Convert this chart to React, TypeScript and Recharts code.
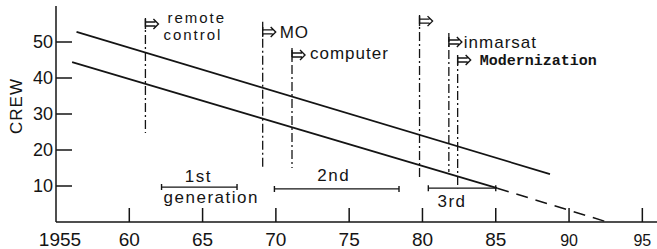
import { LineChart, Line, XAxis, YAxis, ReferenceLine, ReferenceDot } from "recharts";

// crew trend lines (year, crew size)
const upperYears = [1956.4, 1988.7];
const upperCrew = [52.8, 13.3];
const lowerYears = [1956.1, 1985.1];
const lowerCrew = [44.4, 9.4];
const projYears = [1985.1, 1992.6];
const projCrew = [9.4, 0];

// technology events: dash-dot marker lines
const eventLabels = [["remote", "control"], ["MO"], ["computer"], [], ["inmarsat"], ["Modernization"]];
const eventYears = [1961.1, 1969.1, 1971.1, 1979.8, 1981.8, 1982.4];
const eventTop = [56.7, 55.6, 48.3, 57.5, 52.5, 45.8];
const eventArrow = [55.0, 52.8, 46.4, 55.8, 50.0, 45.0];
const eventBottom = [24.7, 15.3, 15.0, 11.7, 13.9, 9.4];

// generations
const genLabels = [["1st", "generation"], ["2nd"], ["3rd"]];
const genStart = [1962.2, 1969.9, 1980.4];
const genEnd = [1967.35, 1978.4, 1985.0];
const genCrew = [9.7, 9.2, 9.4];

const xTicks = [1955, 1960, 1965, 1970, 1975, 1980, 1985, 1990, 1995];
const xTickLabels = ["1955", "60", "65", "70", "75", "80", "85", "90", "95"];
const yTicks = [10, 20, 30, 40, 50];

const INK = "#141414";
const FONT = "'Liberation Sans', Arial, sans-serif";

const toPoints = (xs: number[], ys: number[]) => xs.map((year, i) => ({ year, crew: ys[i] }));

// label offsets relative to the arrow point (px)
const eventOffsets = [
  [{ dx: 22, dy: -1 }, { dx: 18, dy: 16 }],
  [{ dx: 17, dy: 6 }],
  [{ dx: 18, dy: 4 }],
  [],
  [{ dx: 15, dy: 6 }],
  [{ dx: 22, dy: 5 }],
];
const genOffsets = [
  [{ dx: -1, dy: -5 }, { dx: 12, dy: 16 }],
  [{ dx: -3, dy: -8 }],
  [{ dx: -10, dy: 19 }],
];

function XTick({ x, y, payload, index }: any) {
  const v = payload.value;
  const small = v >= 1990;
  return (
    <g>
      {v !== 1955 && <line x1={x} x2={x} y1={y} y2={y - 14} stroke={INK} strokeWidth={1.5} />}
      <text
        x={v === 1955 ? x + 4 : x}
        y={y + 24}
        textAnchor="middle"
        fontFamily={FONT}
        fontSize={small ? 16 : 19}
        fill={INK}
      >
        {xTickLabels[index] ?? xTickLabels[xTicks.indexOf(v)]}
      </text>
    </g>
  );
}

function YTick({ x, y, payload }: any) {
  return (
    <g>
      <line x1={x} x2={x + 16} y1={y} y2={y} stroke={INK} strokeWidth={1.5} />
      <text x={x - 3} y={y + 6} textAnchor="end" fontFamily={FONT} fontSize={18} fill={INK}>
        {payload.value}
      </text>
    </g>
  );
}

function EventMarker({ cx, cy, i }: any) {
  const mono = eventLabels[i][0] === "Modernization";
  const twoLine = eventLabels[i].length > 1;
  const offs = eventOffsets[i];
  return (
    <g>
      <line x1={cx} x2={cx} y1={cy - 5} y2={cy + 5} stroke={INK} strokeWidth={1.4} />
      <path
        d={`M${cx} ${cy - 2}H${cx + 10}M${cx} ${cy + 2}H${cx + 10}M${cx + 8} ${cy - 5}L${cx + 13} ${cy}L${cx + 8} ${cy + 5}`}
        stroke={INK}
        strokeWidth={1.4}
        fill="none"
      />
      {eventLabels[i].map((t, k) => (
        <text
          key={k}
          x={cx + offs[k].dx}
          y={cy + offs[k].dy}
          fontFamily={mono ? "'Liberation Mono', 'Courier New', monospace" : FONT}
          fontWeight={mono ? 700 : 400}
          fontSize={mono ? 15 : twoLine ? 15 : 17}
          letterSpacing={mono ? 0 : twoLine ? 2 : 1}
          fill={INK}
        >
          {t}
        </text>
      ))}
    </g>
  );
}

function GenLabel({ cx, cy, i }: any) {
  return (
    <g>
      {genLabels[i].map((t, k) => (
        <text
          key={k}
          x={cx + genOffsets[i][k].dx}
          y={cy + genOffsets[i][k].dy}
          textAnchor="middle"
          fontFamily={FONT}
          fontSize={17}
          letterSpacing={1.5}
          fill={INK}
        >
          {t}
        </text>
      ))}
    </g>
  );
}

function Bracket(props: any) {
  const { x1, y1, x2, y2 } = props;
  return (
    <path
      d={`M${x1} ${y1}H${x2}M${x1} ${y1 - 3}V${y1 + 3}M${x2} ${y2 - 3}V${y2 + 3}`}
      stroke={INK}
      strokeWidth={1.4}
      fill="none"
    />
  );
}

export default function App() {
  return (
    <div style={{ position: "absolute", left: 0, top: 0, background: "#fff" }}>
      <LineChart width={657} height={249} margin={{ top: 6, right: 0, bottom: 0, left: 0 }}>
        <XAxis
          type="number"
          dataKey="year"
          domain={[1955, 1996]}
          ticks={xTicks}
          interval={0}
          allowDataOverflow
          height={27}
          tickSize={0}
          tickMargin={0}
          tickLine={false}
          axisLine={{ stroke: INK, strokeWidth: 1.5 }}
          tick={<XTick />}
        />
        <YAxis
          type="number"
          dataKey="crew"
          domain={[0, 60]}
          ticks={yTicks}
          interval={0}
          width={56}
          tickSize={0}
          tickMargin={0}
          tickLine={false}
          axisLine={{ stroke: INK, strokeWidth: 1.5 }}
          tick={<YTick />}
          label={{
            content: ({ viewBox }: any) => {
              const x = viewBox.x + 22;
              const y = viewBox.y + viewBox.height / 2 - 8;
              return (
                <text
                  x={x}
                  y={y}
                  transform={`rotate(-90 ${x} ${y})`}
                  textAnchor="middle"
                  fontFamily={FONT}
                  fontSize={17}
                  letterSpacing={1}
                  fill={INK}
                >
                  CREW
                </text>
              );
            },
          }}
        />
        {eventYears.map((yr, i) => (
          <ReferenceLine
            key={`ev${i}`}
            segment={[
              { x: yr, y: eventTop[i] },
              { x: yr, y: eventBottom[i] },
            ]}
            stroke={INK}
            strokeWidth={1.3}
            strokeDasharray="9 3 2 3"
          />
        ))}
        {eventYears.map((yr, i) => (
          <ReferenceDot
            key={`ea${i}`}
            x={yr}
            y={eventArrow[i]}
            r={0}
            shape={(p: any) => <EventMarker cx={p.cx} cy={p.cy} i={i} />}
          />
        ))}
        {genStart.map((s, i) => (
          <ReferenceLine
            key={`g${i}`}
            segment={[
              { x: s, y: genCrew[i] },
              { x: genEnd[i], y: genCrew[i] },
            ]}
            stroke={INK}
            strokeWidth={1.4}
            shape={(p: any) => <Bracket {...p} />}
          />
        ))}
        {genStart.map((s, i) => (
          <ReferenceDot
            key={`gl${i}`}
            x={(s + genEnd[i]) / 2}
            y={genCrew[i]}
            r={0}
            shape={(p: any) => <GenLabel cx={p.cx} cy={p.cy} i={i} />}
          />
        ))}
        <Line
          data={toPoints(upperYears, upperCrew)}
          dataKey="crew"
          type="linear"
          stroke={INK}
          strokeWidth={1.7}
          dot={false}
          isAnimationActive={false}
        />
        <Line
          data={toPoints(lowerYears, lowerCrew)}
          dataKey="crew"
          type="linear"
          stroke={INK}
          strokeWidth={1.7}
          dot={false}
          isAnimationActive={false}
        />
        <Line
          data={toPoints(projYears, projCrew)}
          dataKey="crew"
          type="linear"
          stroke={INK}
          strokeWidth={1.5}
          strokeDasharray="12 8"
          dot={false}
          isAnimationActive={false}
        />
      </LineChart>
    </div>
  );
}
